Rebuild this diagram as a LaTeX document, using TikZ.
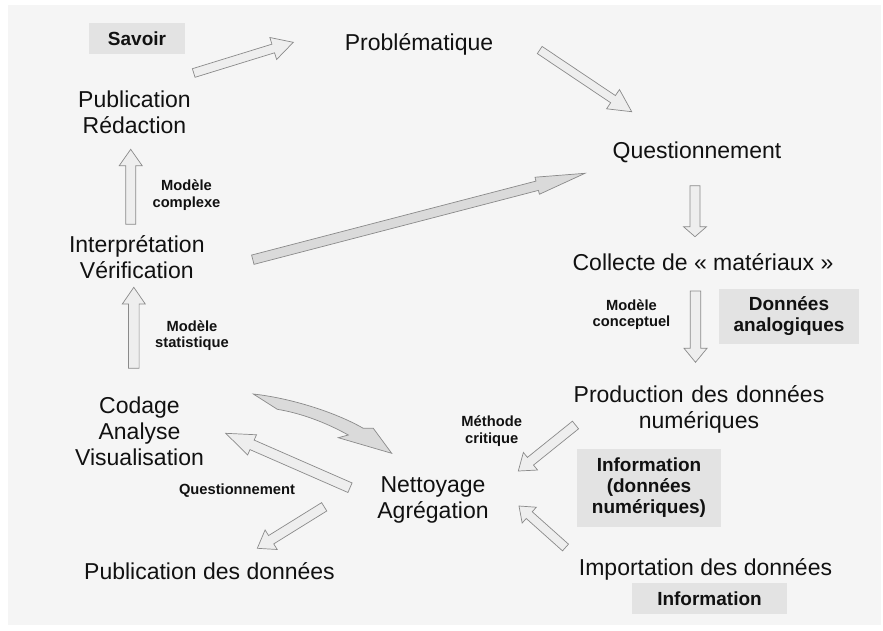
\documentclass[tikz,border=0pt]{standalone}
\usepackage{fontspec}
\setmainfont{Liberation Sans}
\usetikzlibrary{calc}
\definecolor{bgcol}{HTML}{F5F5F5}
\definecolor{boxcol}{HTML}{E3E3E3}
\definecolor{arrlight}{HTML}{EEEEEE}
\definecolor{arrdark}{HTML}{DADADA}
\definecolor{arrline}{HTML}{8A8A8A}
\definecolor{txt}{HTML}{111111}
\newcommand\blockarr[6]{%
  \coordinate (hb) at ($(#3)!#6!(#2)$);
  \draw[#1] ($(#2)!#4!90:(#3)$) -- ($(hb)!#4!90:(#3)$) -- ($(hb)!#5!90:(#3)$) -- (#3)
    -- ($(hb)!#5!-90:(#3)$) -- ($(hb)!#4!-90:(#3)$) -- ($(#2)!#4!-90:(#3)$) -- cycle;}
\begin{document}
\begin{tikzpicture}[x=1pt,y=-1pt,
  main/.style={font=\fontsize{23}{26}\selectfont, inner sep=0pt, text=txt, anchor=base},
  mainml/.style={main, text width=260pt, align=center},
  small/.style={font=\fontsize{14.7}{16.5}\selectfont\bfseries, inner sep=0pt, text=txt, anchor=base},
  smallml/.style={small, text width=120pt, align=center},
  tagbox/.style={fill=boxcol, font=\fontsize{19}{21}\selectfont\bfseries, align=center, inner sep=0pt, text=txt},
  light/.style={fill=arrlight, draw=arrline, line width=0.7pt},
  dark/.style={fill=arrdark, draw=arrline, line width=0.7pt}]
\useasboundingbox (0,0) rectangle (883,630);
\fill[bgcol] (8,5) rectangle (881,625);
% boxes
\node[tagbox, minimum width=96pt, minimum height=31pt] (savoir) at (137,38.5) {Savoir};
\node[tagbox, minimum width=140pt, minimum height=55pt] (donana) at (789,316.5) {Données\\analogiques};
\node[tagbox, minimum width=144pt, minimum height=78pt] (infonum) at (649,488) {Information\\(données\\numériques)};
\node[tagbox, minimum width=155pt, minimum height=31pt] (info) at (709.5,598.5) {Information};
% main labels
\node[main] (prob) at (419,50.5) {Problématique};
\node[mainml] (pub) at (134.5,107.3) {Publication\\Rédaction};
\node[main] (quest) at (697,158.5) {Questionnement};
\node[mainml] (interp) at (136.8,252) {Interprétation\\Vérification};
\node[main] (coll) at (703,270) {Collecte de « matériaux »};
\node[mainml] (prod) at (699,402.5) {Production des données\\numériques};
\node[mainml] (cod) at (139.5,413) {Codage\\Analyse\\Visualisation};
\node[mainml] (net) at (433,492.5) {Nettoyage\\Agrégation};
\node[main] (pubdon) at (209.5,579) {Publication des données};
\node[main] (imp) at (705.5,575) {Importation des données};
% small labels
\node[smallml] (mcomp) at (186.5,190.7) {Modèle\\complexe};
\node[smallml] (mstat) at (192,331) {Modèle\\statistique};
\node[smallml] (mconc) at (631.5,310) {Modèle\\conceptuel};
\node[smallml] (mcrit) at (491.7,426.7) {Méthode\\critique};
\node[small] (qsmall) at (237,494.3) {Questionnement};
% arrow ends
\coordinate (a1s) at (193.7,73);   \coordinate (a1e) at (293.3,42.3);
\coordinate (a2s) at (539.7,50);   \coordinate (a2e) at (631.7,111.7);
\coordinate (a3s) at (695,185.7);  \coordinate (a3e) at (695,236.7);
\coordinate (a4s) at (695.5,291);  \coordinate (a4e) at (695.5,362.3);
\coordinate (a5s) at (130.7,224.3); \coordinate (a5e) at (130.7,149.3);
\coordinate (a6s) at (133.8,368.3); \coordinate (a6e) at (133.8,287.3);
\coordinate (a7s) at (252.8,259.7); \coordinate (a7e) at (585,173.3);
\coordinate (a9s) at (350,487.7);  \coordinate (a9e) at (225.7,433.3);
\coordinate (a10s) at (324.2,506.8); \coordinate (a10e) at (257.3,548.3);
\coordinate (a11s) at (575.5,425); \coordinate (a11e) at (518.3,471);
\coordinate (a12s) at (565.5,547.5); \coordinate (a12e) at (519,506);
% arrows
\blockarr{light}{a1s}{a1e}{4.5pt}{11.5pt}{21pt}
\blockarr{light}{a2s}{a2e}{4.3pt}{11.6pt}{22.5pt}
\blockarr{light}{a3s}{a3e}{5pt}{11.5pt}{10pt}
\blockarr{light}{a4s}{a4e}{5.2pt}{11.5pt}{14pt}
\blockarr{light}{a5s}{a5e}{5pt}{11.5pt}{16.4pt}
\blockarr{light}{a6s}{a6e}{5.3pt}{11.5pt}{16.7pt}
\blockarr{dark}{a7s}{a7e}{4.8pt}{8.8pt}{49.4pt}
\blockarr{light}{a9s}{a9e}{5.2pt}{11pt}{28.8pt}
\blockarr{light}{a10s}{a10e}{4.9pt}{11.5pt}{16.3pt}
\blockarr{light}{a11s}{a11e}{4.9pt}{11.3pt}{15.6pt}
\blockarr{light}{a12s}{a12e}{4.5pt}{10.6pt}{13.7pt}
% curved arrow
\coordinate (c1s) at (253.3,394);
\coordinate (c1e) at (391.7,453.3);
\draw[dark] (c1s) .. controls (290,398) and (335,412) .. (363.3,428.3)
  -- (373.3,428.3) -- (c1e) -- (338.3,437.7) -- (348.3,435)
  .. controls (325,422) and (300,413) .. (277.3,409.3) -- cycle;
\end{tikzpicture}
\end{document}
